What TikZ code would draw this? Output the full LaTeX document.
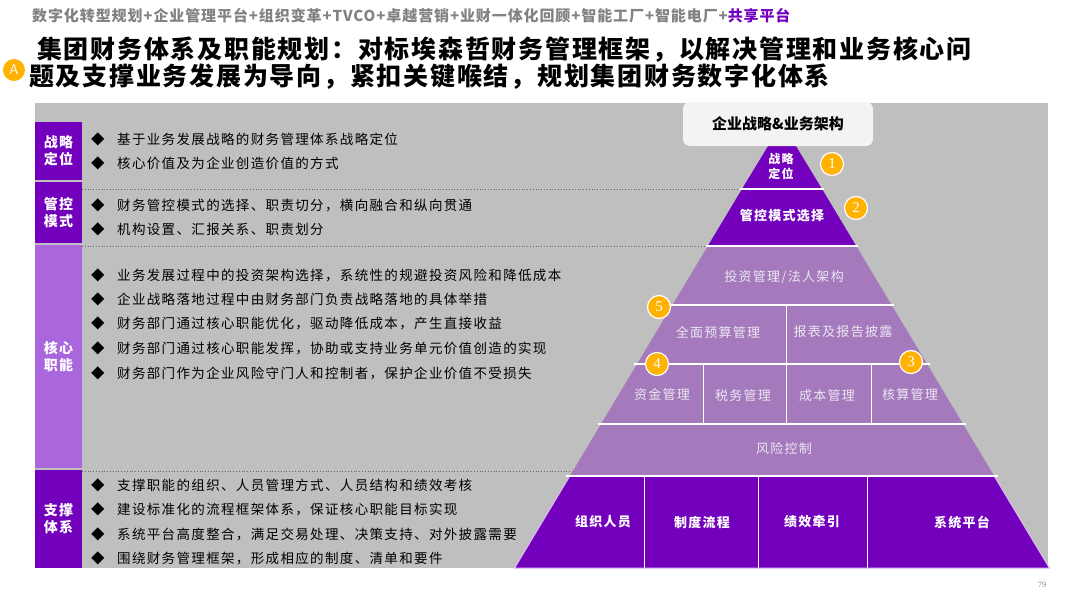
\documentclass[tikz,border=0pt]{standalone}
\usepackage{fontspec}
\setmainfont{Liberation Serif}
\newfontfamily\cjk{Noto Sans CJK SC}
\newfontfamily\cjksp[LetterSpace=10]{Noto Sans CJK SC}
\newfontfamily\cjkhead[LetterSpace=6]{Noto Sans CJK SC}
\newfontfamily\cjktitle[LetterSpace=7]{Noto Sans CJK SC}
\usetikzlibrary{positioning}
\definecolor{deeppurple}{RGB}{115,0,188}
\definecolor{softpurple}{RGB}{164,122,188}
\definecolor{labelpurple}{RGB}{170,102,221}
\definecolor{panelgray}{RGB}{191,191,191}
\definecolor{badgeorange}{RGB}{255,178,0}
\definecolor{headgray}{RGB}{130,130,130}
\definecolor{tiertext}{RGB}{236,230,242}
\definecolor{boxwhite}{RGB}{243,243,243}

\begin{document}
\begin{tikzpicture}[
    x=1pt, y=-1pt,
    sidebox/.style={fill=deeppurple,minimum width=47pt,inner sep=0pt,align=center,text=white,font=\fontsize{14}{17}\selectfont\cjksp\bfseries},
    item/.style={anchor=west,inner sep=0pt,font=\fontsize{13.5}{16}\selectfont\cjksp},
    tier/.style={text=white,align=center,font=\fontsize{13}{16}\selectfont\cjksp\bfseries},
    softtier/.style={text=tiertext,font=\fontsize{13}{16}\selectfont\cjksp},
    badge/.style={circle,fill=badgeorange,draw=white,line width=1.2pt,minimum size=23pt,inner sep=0pt,text=white,font=\fontsize{15}{15}\selectfont},
    divider/.style={white,line width=1.6pt},
    dotline/.style={gray!80!black,dotted,line width=0.8pt}
]
\useasboundingbox (0,0) rectangle (1080,608);
\fill[white] (0,0) rectangle (1080,608);

% header and title
\node[anchor=west,inner sep=0pt,font=\fontsize{15}{18}\selectfont\cjkhead\bfseries] (head) at (32,16)
  {\textcolor{headgray}{数字化转型规划+企业管理平台+组织变革+TVCO+卓越营销+业财一体化回顾+智能工厂+智能电厂+}\textcolor{deeppurple}{共享平台}};
\node[anchor=west,inner sep=0pt,font=\fontsize{25}{30}\selectfont\cjktitle\bfseries] (title1) at (37,50)
  {集团财务体系及职能规划：对标埃森哲财务管理框架，以解决管理和业务核心问};
\node[anchor=west,inner sep=0pt,font=\fontsize{25}{30}\selectfont\cjktitle\bfseries] (title2) at (29,77)
  {题及支撑业务发展为导向，紧扣关键喉结，规划集团财务数字化体系};
\node[circle,fill=badgeorange,minimum size=22pt,inner sep=0pt,text=white,font=\fontsize{14}{14}\selectfont\sffamily] (mark) at (14,70) {A};

\fill[panelgray] (35,103) rectangle (1048,568);

% left side
\node[sidebox,minimum height=58pt] (lstrat) at (58.5,151) {战略\\定位};
\node[sidebox,minimum height=61pt] (lctrl) at (58.5,212.5) {管控\\模式};
\node[sidebox,fill=labelpurple,minimum height=223pt] (lcore) at (58.5,356.5) {核心\\职能};
\node[sidebox,minimum height=98pt] (lsupp) at (58.5,519) {支撑\\体系};

\draw[dotline] (82,189) -- (742,189);
\draw[dotline] (82,246) -- (708,246);
\draw[dotline] (82,471) -- (574,471);

\node[item] (s1) at (91,139) {\makebox[26pt][l]{◆}基于业务发展战略的财务管理体系战略定位};
\node[item] (s2) at (91,163) {\makebox[26pt][l]{◆}核心价值及为企业创造价值的方式};
\node[item] (c1) at (91,205) {\makebox[26pt][l]{◆}财务管控模式的选择、职责切分，横向融合和纵向贯通};
\node[item] (c2) at (91,229) {\makebox[26pt][l]{◆}机构设置、汇报关系、职责划分};
\node[item] (k1) at (91,275) {\makebox[26pt][l]{◆}业务发展过程中的投资架构选择，系统性的规避投资风险和降低成本};
\node[item] (k2) at (91,299) {\makebox[26pt][l]{◆}企业战略落地过程中由财务部门负责战略落地的具体举措};
\node[item] (k3) at (91,323) {\makebox[26pt][l]{◆}财务部门通过核心职能优化，驱动降低成本，产生直接收益};
\node[item] (k4) at (91,348) {\makebox[26pt][l]{◆}财务部门通过核心职能发挥，协助或支持业务单元价值创造的实现};
\node[item] (k5) at (91,373) {\makebox[26pt][l]{◆}财务部门作为企业风险守门人和控制者，保护企业价值不受损失};
\node[item] (p1) at (91,485) {\makebox[26pt][l]{◆}支撑职能的组织、人员管理方式、人员结构和绩效考核};
\node[item] (p2) at (91,509) {\makebox[26pt][l]{◆}建设标准化的流程框架体系，保证核心职能目标实现};
\node[item] (p3) at (91,534) {\makebox[26pt][l]{◆}系统平台高度整合，满足交易处理、决策支持、对外披露需要};
\node[item] (p4) at (91,558) {\makebox[26pt][l]{◆}围绕财务管理框架，形成相应的制度、清单和要件};

% pyramid
\fill[deeppurple] (782,123) -- (822,189) -- (742,189) -- cycle;
\fill[deeppurple] (742,189) -- (822,189) -- (855.6,245) -- (708.4,245) -- cycle;
\fill[softpurple] (708.4,245) -- (855.6,245) -- (994.2,476) -- (569.8,476) -- cycle;
\fill[deeppurple] (569.8,476) -- (994.2,476) -- (1049.4,568) -- (514.6,568) -- cycle;
\draw[white!75!deeppurple,line width=1pt] (569.8,476) -- (514.6,568) -- (1049.4,568) -- (994.2,476);
\draw[divider] (740,189) -- (824,189);
\draw[divider] (706,246) -- (858,246);
\draw[divider] (670,305) -- (894,305);
\draw[divider] (634,364) -- (930,364);
\draw[divider] (598,424) -- (966,424);
\draw[divider] (566,476) -- (998,476);
\draw[divider,line width=1pt] (786,305) -- (786,364);
\draw[divider,line width=1pt] (703,364) -- (703,424);
\draw[divider,line width=1pt] (786,364) -- (786,424);
\draw[divider,line width=1pt] (871,364) -- (871,424);
\draw[divider,line width=1pt] (644,476) -- (644,568);
\draw[divider,line width=1pt] (758,476) -- (758,568);
\draw[divider,line width=1pt] (867,476) -- (867,568);

\node[fill=boxwhite,rounded corners=7pt,minimum width=190pt,minimum height=44pt,font=\fontsize{15}{18}\selectfont\cjk\bfseries] (arch) at (778,124) {企业战略\&业务架构};

\node[tier,font=\fontsize{12}{15}\selectfont\cjksp\bfseries] (t1) at (781,166) {战略\\定位};
\node[tier] (t2) at (782,216) {管控模式选择};
\node[softtier] (t3) at (784,277) {投资管理/法人架构};
\node[softtier] (t4a) at (718,332) {全面预算管理};
\node[softtier] (t4b) at (843,332) {报表及报告披露};
\node[softtier] (t5a) at (662,395) {资金管理};
\node[softtier] (t5b) at (743,396) {税务管理};
\node[softtier] (t5c) at (827,396) {成本管理};
\node[softtier] (t5d) at (910,395) {核算管理};
\node[softtier] (t6) at (784,449) {风险控制};
\node[tier] (b1) at (603,522) {组织人员};
\node[tier] (b2) at (702,522) {制度流程};
\node[tier] (b3) at (812,522) {绩效牵引};
\node[tier] (b4) at (962,522) {系统平台};

\node[badge] (n1) at (832,164) {1};
\node[badge] (n2) at (856,208) {2};
\node[badge] (n3) at (911,362) {3};
\node[badge] (n4) at (657,364) {4};
\node[badge] (n5) at (659,307) {5};

\node[text=headgray,font=\fontsize{8}{8}\selectfont] (page) at (1042,585) {79};
\end{tikzpicture}
\end{document}
